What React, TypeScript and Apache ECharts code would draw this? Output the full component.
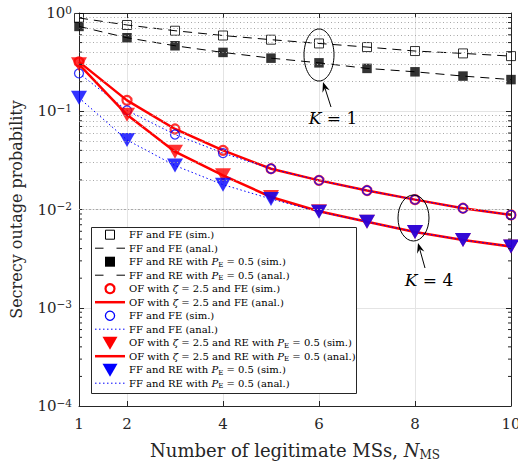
import React, { useEffect, useRef } from "react";
import * as echarts from "echarts";

const FONT = "'DejaVu Serif', 'Liberation Serif', serif";

// x: number of legitimate MSs
const nMS = [1, 2, 3, 4, 5, 6, 7, 8, 9, 10];
const xTicks = [1, 2, 4, 6, 8, 10];
const yDecades = [1e-4, 1e-3, 1e-2, 1e-1, 1];
const minorMultipliers = [2, 3, 4, 5, 6, 7, 8, 9];

// K = 1
const ffFeK1Sim = [0.89, 0.755, 0.66, 0.59, 0.535, 0.49, 0.45, 0.41, 0.388, 0.364];
const ffFeK1Anal = [0.89, 0.755, 0.66, 0.59, 0.535, 0.49, 0.45, 0.41, 0.388, 0.364];
const ffReK1Sim = [0.73, 0.56, 0.464, 0.397, 0.347, 0.311, 0.273, 0.252, 0.228, 0.21];
const ffReK1Anal = [0.73, 0.56, 0.464, 0.397, 0.347, 0.311, 0.273, 0.252, 0.228, 0.21];
// K = 4
const ofFeSim = [0.318, 0.129, 0.066, 0.04, 0.026, 0.0198, 0.0156, 0.0126, 0.0103, 0.0088];
const ofFeAnal = [0.318, 0.129, 0.066, 0.04, 0.026, 0.0198, 0.0156, 0.0126, 0.0103, 0.0088];
const ffFeSim = [0.243, 0.102, 0.058, 0.0375, 0.026, 0.0198, 0.0156, 0.0126, 0.0103, 0.0088];
const ffFeAnal = [0.243, 0.102, 0.058, 0.0375, 0.026, 0.0198, 0.0156, 0.0126, 0.0103, 0.0088];
const ofReSim = [0.3, 0.092, 0.0388, 0.0223, 0.0134, 0.0096, 0.0075, 0.0059, 0.0049, 0.0042];
const ofReAnal = [0.3, 0.092, 0.0388, 0.0223, 0.0134, 0.0096, 0.0075, 0.0059, 0.0049, 0.0042];
const ffReSim = [0.137, 0.051, 0.028, 0.0179, 0.0128, 0.0095, 0.0075, 0.0059, 0.0049, 0.0042];
const ffReAnal = [0.137, 0.051, 0.028, 0.0179, 0.0128, 0.0095, 0.0075, 0.0059, 0.0049, 0.0042];

const names = [
  "FF and FE (sim.)",
  "FF and FE (anal.)",
  "FF and RE with P_E = 0.5 (sim.)",
  "FF and RE with P_E = 0.5 (anal.)",
  "OF with ζ = 2.5 and FE (sim.)",
  "OF with ζ = 2.5 and FE (anal.)",
  "FF and FE (sim.)",
  "FF and FE (anal.)",
  "OF with ζ = 2.5 and RE with P_E = 0.5 (sim.)",
  "OF with ζ = 2.5 and RE with P_E = 0.5 (anal.)",
  "FF and RE with P_E = 0.5 (sim.)",
  "FF and RE with P_E = 0.5 (anal.)",
];
// legend icon kind per entry
const legendKinds = [
  "sqOpen", "dashK", "sqFill", "dashK",
  "cirRed", "lineRed", "cirBlue", "dotBlue",
  "triRed", "lineRed", "triBlue", "dotBlue",
];

const pts = (ys: number[]) => nMS.map((x, i) => [x, ys[i]]);

const minorVals: number[] = [];
yDecades.slice(0, -1).forEach((d) => minorMultipliers.forEach((m) => minorVals.push(m * d)));

const richFmt = (name: string) => name.replace("P_E", "{i|P}{sub|E}").replace("ζ", "{i|ζ}");

function scatter(name: string, ys: number[], symbol: string, size: any, style: any, rotate = 0) {
  return {
    type: "scatter",
    name,
    data: pts(ys),
    symbol,
    symbolSize: size,
    symbolRotate: rotate,
    itemStyle: style,
    z: 3,
  };
}
function line(name: string, ys: number[], color: string, width: number, type: any) {
  return {
    type: "line",
    name,
    data: pts(ys),
    symbol: "none",
    showSymbol: false,
    lineStyle: { color, width, type },
    itemStyle: { color },
    z: 3,
  };
}

function arrow(tail: number[], tip: number[]) {
  const dx = tip[0] - tail[0];
  const dy = tip[1] - tail[1];
  const L = Math.hypot(dx, dy);
  const ux = dx / L;
  const uy = dy / L;
  const nx = -uy;
  const ny = ux;
  const hl = 10;
  const hw = 3.8;
  const bx = tip[0] - ux * hl;
  const by = tip[1] - uy * hl;
  const mx = tip[0] - ux * hl * 0.65;
  const my = tip[1] - uy * hl * 0.65;
  return [
    { type: "line", shape: { x1: tail[0], y1: tail[1], x2: mx, y2: my }, style: { stroke: "#000", lineWidth: 1 }, z: 10 },
    {
      type: "polygon",
      shape: { points: [tip, [bx + nx * hw, by + ny * hw], [mx, my], [bx - nx * hw, by - ny * hw]] },
      style: { fill: "#000" },
      z: 10,
    },
  ];
}

function legendIcon(kind: string, cx: number, cy: number): any {
  const x1 = cx - 15;
  const x2 = cx + 15;
  const z = 21;
  switch (kind) {
    case "sqOpen":
      return { type: "rect", shape: { x: cx - 4.5, y: cy - 4.5, width: 9, height: 9 }, style: { fill: "none", stroke: "#000", lineWidth: 1 }, z };
    case "sqFill":
      return { type: "rect", shape: { x: cx - 5, y: cy - 5, width: 10, height: 10 }, style: { fill: "#000" }, z };
    case "dashK":
      return { type: "line", shape: { x1, y1: cy, x2, y2: cy }, style: { stroke: "#000", lineWidth: 1, lineDash: [8.5, 13] }, z };
    case "lineRed":
      return { type: "line", shape: { x1, y1: cy, x2, y2: cy }, style: { stroke: "#ff0000", lineWidth: 2.5 }, z };
    case "dotBlue":
      return { type: "line", shape: { x1, y1: cy, x2, y2: cy }, style: { stroke: "#0000ff", lineWidth: 1, lineDash: [1.5, 2.5] }, z };
    case "cirRed":
      return { type: "circle", shape: { cx, cy, r: 4.5 }, style: { fill: "none", stroke: "#ff0000", lineWidth: 2.2 }, z };
    case "cirBlue":
      return { type: "circle", shape: { cx, cy, r: 4.6 }, style: { fill: "none", stroke: "#0000ff", lineWidth: 1.3 }, z };
    case "triRed":
    case "triBlue":
      return {
        type: "polygon",
        shape: { points: [[cx - 7.5, cy - 6], [cx + 7.5, cy - 6], [cx, cy + 7]] },
        style: { fill: kind === "triRed" ? "#ff0000" : "#0000ff" },
        z,
      };
  }
  return null;
}

export default function App() {
  const ref = useRef<HTMLDivElement>(null);
  useEffect(() => {
    const chart = echarts.init(ref.current!, null, { renderer: "svg" });
    const axisColor = "#262626";
    const option: any = {
      animation: false,
      backgroundColor: "#fff",
      grid: { left: 79, right: 7, top: 13, bottom: 55, containLabel: false, outerBoundsMode: "none" },
      xAxis: [
        {
          type: "value",
          min: 1,
          max: 10,
          position: "bottom",
          axisLine: { show: true, onZero: false, lineStyle: { color: axisColor, width: 1 } },
          axisTick: { show: true, inside: true, length: 5, customValues: xTicks, lineStyle: { color: axisColor } },
          axisLabel: { customValues: xTicks, fontFamily: FONT, fontSize: 15, color: axisColor, margin: 10 },
          splitLine: { show: true, lineStyle: { color: "#e4e4e4", width: 1 } },
          name: "Number of legitimate MSs, {i|N}{sub|MS}",
          nameLocation: "middle",
          nameGap: 34,
          nameTextStyle: {
            fontFamily: FONT,
            fontSize: 18,
            color: axisColor,
            rich: {
              i: { fontFamily: FONT, fontSize: 18, fontStyle: "italic", color: axisColor, lineHeight: 21 },
              sub: { fontFamily: FONT, fontSize: 12, color: axisColor, lineHeight: 7, verticalAlign: "bottom" },
            },
          },
        },
        {
          type: "value",
          min: 1,
          max: 10,
          position: "top",
          axisLine: { show: true, onZero: false, lineStyle: { color: axisColor, width: 1 } },
          axisTick: { show: true, inside: true, length: 5, customValues: xTicks, lineStyle: { color: axisColor } },
          axisLabel: { show: false },
          splitLine: { show: false },
        },
      ],
      yAxis: [
        {
          type: "log",
          logBase: 10,
          min: 1e-4,
          max: 1,
          axisLine: { show: true, onZero: false, lineStyle: { color: axisColor, width: 1 } },
          axisTick: { show: true, inside: true, length: 5, lineStyle: { color: axisColor } },
          axisLabel: {
            margin: 7,
            formatter: (v: number) => {
              const e = Math.round(Math.log10(v));
              return "{b|10}{s|" + (e === 0 ? "0" : "\u2212" + -e) + "}";
            },
            rich: {
              b: { fontFamily: FONT, fontSize: 15, color: axisColor, lineHeight: 18 },
              s: { fontFamily: FONT, fontSize: 10.5, color: axisColor, lineHeight: 6, verticalAlign: "top" },
            },
          },
          splitLine: { show: true, lineStyle: { color: "#e4e4e4", width: 1 } },
          name: "Secrecy outage probability",
          nameLocation: "middle",
          nameGap: 55,
          nameTextStyle: { fontFamily: FONT, fontSize: 16, color: axisColor },
        },
        {
          type: "log",
          logBase: 10,
          min: 1e-4,
          max: 1,
          position: "right",
          axisLine: { show: true, onZero: false, lineStyle: { color: axisColor, width: 1 } },
          axisTick: { show: true, inside: true, length: 5, lineStyle: { color: axisColor } },
          axisLabel: { show: false },
          splitLine: { show: false },
        },
      ],
      series: [
        {
          type: "line",
          name: "__minor_grid",
          data: [],
          z: 1,
          silent: true,
          markLine: {
            silent: true,
            symbol: ["none", "none"],
            label: { show: false },
            lineStyle: { color: "#a8a8a8", width: 1, type: [1, 2.5] },
            data: minorVals.map((v) => ({ yAxis: v })),
          },
        },
        scatter(names[0], ffFeK1Sim, "rect", 9, { color: "rgba(0,0,0,0)", borderColor: "#000", borderWidth: 1 }),
        line(names[1], ffFeK1Anal, "#000", 1, [9, 6]),
        scatter(names[2], ffReK1Sim, "rect", 9.5, { color: "#000" }),
        line(names[3], ffReK1Anal, "#000", 1, [9, 6]),
        scatter(names[4], ofFeSim, "circle", 9, { color: "rgba(0,0,0,0)", borderColor: "#ff0000", borderWidth: 2.2 }),
        line(names[5], ofFeAnal, "#ff0000", 2.5, "solid"),
        scatter(names[6], ffFeSim, "circle", 9, { color: "rgba(0,0,0,0)", borderColor: "#0000ff", borderWidth: 1.3 }),
        line(names[7], ffFeAnal, "#0000ff", 1, [1.5, 2.5]),
        scatter(names[8], ofReSim, "triangle", [16, 14], { color: "#ff0000" }, 180),
        line(names[9], ofReAnal, "#ff0000", 2.5, "solid"),
        scatter(names[10], ffReSim, "triangle", [16, 14], { color: "#0000ff" }, 180),
        line(names[11], ffReAnal, "#0000ff", 1, [1.5, 2.5]),
      ],
    };
    chart.setOption(option);

    const graphics: any[] = [];
    // minor tick marks on left and right axes
    const xl = chart.convertToPixel({ xAxisIndex: 0 }, 1) as number;
    const xr = chart.convertToPixel({ xAxisIndex: 0 }, 10) as number;
    minorVals.forEach((v) => {
      const y = chart.convertToPixel({ yAxisIndex: 0 }, v) as number;
      graphics.push({ type: "line", shape: { x1: xl, y1: y, x2: xl + 3, y2: y }, style: { stroke: axisColor, lineWidth: 1 }, z: 5 });
      graphics.push({ type: "line", shape: { x1: xr - 3, y1: y, x2: xr, y2: y }, style: { stroke: axisColor, lineWidth: 1 }, z: 5 });
    });

    // legend box
    const lgLeft = 91;
    const lgTop = 227;
    const lgW = 265;
    const lgH = 166;
    const rowY0 = 234.7;
    const rowStep = 13.5;
    graphics.push({
      type: "rect",
      shape: { x: lgLeft + 0.5, y: lgTop + 0.5, width: lgW, height: lgH },
      style: { fill: "#fff", stroke: axisColor, lineWidth: 1 },
      z: 20,
    });
    names.forEach((nm, i) => {
      const cy = rowY0 + i * rowStep;
      const ic = legendIcon(legendKinds[i], 110, cy);
      if (ic) graphics.push(ic);
      graphics.push({
        type: "text",
        x: 129,
        y: cy,
        z: 21,
        style: {
          text: richFmt(nm),
          fontFamily: FONT,
          fontSize: 10,
          fill: "#000",
          verticalAlign: "middle",
          align: "left",
          lineHeight: 13,
          rich: {
            i: { fontFamily: FONT, fontSize: 10, fontStyle: "italic", fill: "#000", lineHeight: 13 },
            sub: { fontFamily: FONT, fontSize: 7, fill: "#000", lineHeight: 5, verticalAlign: "bottom" },
          },
        },
      });
    });

    const richK = { i: { fontFamily: FONT, fontSize: 17, fontStyle: "italic", fill: "#000" } };
    // K = 1 annotation
    graphics.push({ type: "ellipse", shape: { cx: 319, cy: 55, rx: 15, ry: 26 }, style: { fill: "none", stroke: "#000", lineWidth: 1 }, z: 10 });
    graphics.push(...arrow([331, 107], [323, 82]));
    graphics.push({
      type: "text",
      x: 333,
      y: 118,
      style: { text: "{i|K} = 1", font: `17px ${FONT}`, fill: "#000", align: "center", verticalAlign: "middle", rich: richK },
      z: 10,
    });
    // K = 4 annotation
    graphics.push({ type: "ellipse", shape: { cx: 413.5, cy: 218, rx: 15.5, ry: 23 }, style: { fill: "none", stroke: "#000", lineWidth: 1 }, z: 10 });
    graphics.push(...arrow([425, 268], [418, 243]));
    graphics.push({
      type: "text",
      x: 429,
      y: 280,
      style: { text: "{i|K} = 4", font: `17px ${FONT}`, fill: "#000", align: "center", verticalAlign: "middle", rich: richK },
      z: 10,
    });
    chart.setOption({ graphic: graphics });
    return () => chart.dispose();
  }, []);
  return <div ref={ref} style={{ position: "absolute", left: 0, top: 0, width: 518, height: 461 }} />;
}
